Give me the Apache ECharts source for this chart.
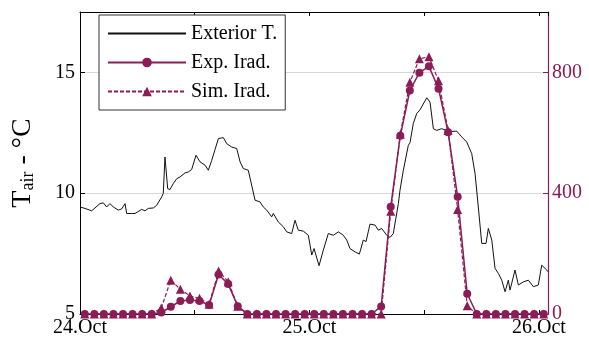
<!DOCTYPE html>
<html>
<head>
<meta charset="utf-8">
<script src="https://cdn.jsdelivr.net/npm/echarts@6/dist/echarts.min.js"></script>
<style>
html,body{margin:0;padding:0;background:#fff;}
#c{width:589px;height:338px;}
</style>
</head>
<body>
<div id="c"></div>
<script>
// Hours since 24.Oct 00:00 and exterior temperature (°C)
const tempHours = [0,0.52,1.22,2.09,2.44,2.79,3.14,3.48,4.01,4.36,4.71,4.88,5.41,5.75,6.45,6.80,7.14,7.67,8.02,8.55,8.71,8.89,9.07,9.17,9.41,9.76,10.11,10.46,10.98,11.33,11.68,11.85,12.13,12.55,13.08,13.42,13.78,14.12,14.47,14.99,15.35,15.87,16.39,16.74,17.08,17.6,18.31,18.83,19.17,19.53,20.05,20.22,20.74,21.27,21.62,22.14,22.49,22.83,23.36,23.88,24.24,24.48,25.0,25.45,25.97,26.5,27.02,27.54,27.9,28.24,28.77,29.22,29.63,29.92,30.33,30.86,31.2,31.56,32.08,32.43,32.77,33.3,33.47,33.82,34.34,34.52,34.86,35.22,35.56,36.27,36.61,36.96,37.31,37.83,38.7,39.4,39.93,40.45,40.97,41.32,41.66,42.02,42.47,42.71,43.07,43.41,43.76,44.11,44.46,44.8,44.98,45.5,45.85,46.37,46.9,47.42,47.94,48.29,48.82,48.95];
const tempValues = [9.43,9.37,9.27,9.57,9.6,9.43,9.57,9.43,9.3,9.35,9.57,9.16,9.16,9.16,9.33,9.27,9.37,9.39,9.5,9.85,9.99,11.5,11.57,10.19,10.15,10.4,10.6,10.67,10.84,10.88,10.98,11.06,11.57,11.3,11.16,10.95,11.36,11.8,12.26,12.3,12.05,11.91,11.85,11.3,11.02,10.95,9.71,9.64,9.43,9.3,9.02,9.16,8.81,8.61,8.4,8.33,8.88,8.47,8.43,8.26,7.44,7.71,7.0,7.64,8.33,8.26,8.4,8.26,8.06,7.71,7.57,7.48,8.06,8.0,8.72,8.68,8.47,8.54,8.26,8.17,8.33,9.57,10.12,10.95,11.98,12.1,12.88,13.3,13.45,13.95,13.77,12.67,12.6,12.67,12.55,12.57,12.33,12.12,11.64,10.81,9.43,7.92,7.92,8.54,8.06,6.89,6.68,6.4,5.92,6.4,5.99,6.82,6.2,6.33,6.4,6.13,6.2,7.02,6.82,6.75];

// Hourly irradiance (W/m²), sampled at half past each hour
const irrHours = [0.5,1.5,2.5,3.5,4.5,5.5,6.5,7.5,8.5,9.5,10.5,11.5,12.5,13.5,14.5,15.5,16.5,17.5,18.5,19.5,20.5,21.5,22.5,23.5,24.5,25.5,26.5,27.5,28.5,29.5,30.5,31.5,32.5,33.5,34.5,35.5,36.5,37.5,38.5,39.5,40.5,41.5,42.5,43.5,44.5,45.5,46.5,47.5,48.5];
const expIrad = [0,0,0,0,0,0,0,0,5,24,43,46,43,30,131,99,26,0,0,0,0,0,0,0,0,0,0,0,0,0,0,25,355,590,740,799,820,746,602,388,67,0,0,0,0,0,0,0,0];
const simIrad = [0,0,0,0,0,0,0,0,20,112,82,60,52,32,142,107,26,0,0,0,0,0,0,0,0,0,0,0,0,0,0,0,340,595,767,845,852,772,608,346,27,0,0,0,0,0,0,0,0];

const xTickLabels = {0:'24.Oct', 24:'25.Oct', 48:'26.Oct'};
const leftTicks = [5,10,15];
const rightTicks = [0,400,800];

const FONT = 'Liberation Serif';
const PURPLE = '#8b1c55';

const zip = (a,b) => a.map((v,i)=>[v,b[i]]);

const chart = echarts.init(document.getElementById('c'), null, {renderer:'canvas'});
chart.setOption({
  animation:false,
  backgroundColor:'#fff',
  grid:{left:80,right:41,top:12,bottom:24,show:false,containLabel:false,outerBoundsMode:'none'},
  legend:{
    orient:'vertical', left:99, top:15,
    data:[{name:'Exterior T.',itemStyle:{color:'rgba(0,0,0,0)',borderWidth:0}},'Exp. Irad.','Sim. Irad.'],
    itemWidth:78, itemHeight:12, itemGap:8, padding:[8,8,8,8],
    backgroundColor:'#fff', borderColor:'#333', borderWidth:1, borderRadius:0,
    textStyle:{fontFamily:FONT,fontSize:20,color:'#000',lineHeight:21}
  },
  xAxis:[
    {type:'value',min:0,max:48.95,interval:12,position:'bottom',
     axisLine:{onZero:false,lineStyle:{color:'#000',width:1}},
     axisTick:{inside:true,length:4,lineStyle:{color:'#000'}},
     axisLabel:{fontFamily:FONT,fontSize:20,color:'#000',margin:4,showMaxLabel:false,
       formatter:v=>xTickLabels[v]||''},
     splitLine:{show:false}},
    {type:'value',min:0,max:48.95,interval:12,position:'top',
     axisLine:{onZero:false,lineStyle:{color:'#000',width:1}},
     axisTick:{inside:true,length:4,lineStyle:{color:'#000'}},
     axisLabel:{show:false},splitLine:{show:false}}
  ],
  yAxis:[
    {type:'value',min:5,max:17.5,interval:5,position:'left',
     axisLine:{show:true,onZero:false,lineStyle:{color:'#000',width:1}},
     axisTick:{show:true,inside:true,length:5,lineStyle:{color:'#000'}},
     axisLabel:{fontFamily:FONT,fontSize:20,color:'#000',margin:5,showMaxLabel:false,
       formatter:v=>leftTicks.includes(v)?String(v):''},
     splitLine:{show:true,lineStyle:{color:'#d8d8d8',width:1.2}},
     name:'{t|T}{s|air}{d| - °C}', nameLocation:'middle', nameRotate:90, nameGap:43,
     nameTextStyle:{fontFamily:FONT,color:'#000',
       rich:{t:{fontFamily:FONT,fontSize:28,lineHeight:28,verticalAlign:'top'},
             s:{fontFamily:FONT,fontSize:18,lineHeight:18,verticalAlign:'bottom',padding:[24,0,0,0]},
             d:{fontFamily:FONT,fontSize:28,lineHeight:28,verticalAlign:'top'}}}
    },
    {type:'value',min:0,max:1000,interval:400,position:'right',
     axisLine:{show:true,onZero:false,lineStyle:{color:PURPLE,width:1.2}},
     axisTick:{show:true,inside:true,length:5,lineStyle:{color:PURPLE}},
     axisLabel:{fontFamily:FONT,fontSize:20,color:PURPLE,margin:4,showMaxLabel:false,
       formatter:v=>rightTicks.includes(v)?String(v):''},
     splitLine:{show:false}}
  ],
  series:[
    {name:'Exterior T.',type:'line',xAxisIndex:0,yAxisIndex:0,data:zip(tempHours,tempValues),
     symbol:'none',lineStyle:{color:'#111',width:1},itemStyle:{color:'#111'},z:1},
    {name:'Sim. Irad.',type:'line',xAxisIndex:0,yAxisIndex:1,data:zip(irrHours,simIrad),
     symbol:'triangle',symbolSize:9,showAllSymbol:true,
     lineStyle:{color:PURPLE,width:1.2,type:[4,2]},itemStyle:{color:PURPLE},z:2},
    {name:'Exp. Irad.',type:'line',xAxisIndex:0,yAxisIndex:1,data:zip(irrHours,expIrad),
     symbol:'circle',symbolSize:8,showAllSymbol:true,
     lineStyle:{color:PURPLE,width:1.5},itemStyle:{color:PURPLE},z:3}
  ]
});
</script>
</body>
</html>
